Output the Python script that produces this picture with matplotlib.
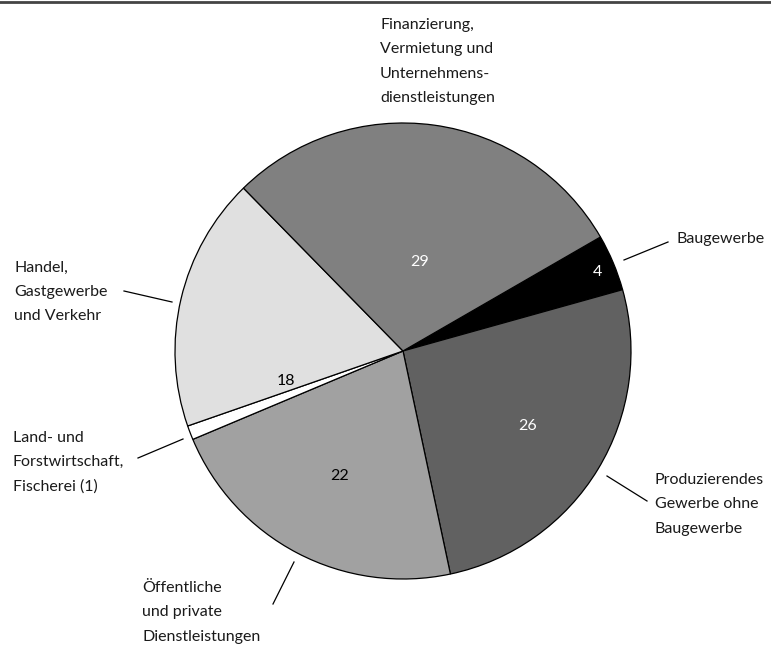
import matplotlib
matplotlib.use("Agg")
import matplotlib.pyplot as plt

plt.rcParams['font.family'] = ['Lato', 'DejaVu Sans']

# Anteile der Wirtschaftsbereiche (in %), im Uhrzeigersinn ab Baugewerbe
sectors = [
    "Baugewerbe",
    "Produzierendes\nGewerbe ohne\nBaugewerbe",
    "Öffentliche\nund private\nDienstleistungen",
    "Land- und\nForstwirtschaft,\nFischerei (1)",
    "Handel,\nGastgewerbe\nund Verkehr",
    "Finanzierung,\nVermietung und\nUnternehmens-\ndienstleistungen",
]
shares = [4, 26, 22, 1, 18, 29]
value_labels = ["4", "26", "22", "", "18", "29"]
fill_colors = ["#000000", "#616161", "#a1a1a1", "#ffffff", "#e0e0e0", "#808080"]
value_colors = ["white", "white", "black", "black", "black", "white"]

W, H = 771, 646
fig = plt.figure(figsize=(W / 100, H / 100), dpi=100)
ax = fig.add_axes([0, 0, 1, 1])


def py(y):
    # pixel row (from top) -> axis y
    return H - y


cx, cy, r = 403, py(351), 228
ax.pie(shares, colors=fill_colors, startangle=30, counterclock=False,
       center=(cx, cy), radius=r, frame=True,
       wedgeprops=dict(edgecolor='black', linewidth=0.9))
ax.set_xlim(0, W)
ax.set_ylim(0, H)
ax.set_aspect('equal')
ax.axis('off')

FS = 11.5

# Werte in den Segmenten
value_pos = [(597, 272), (528, 426), (340, 476), None, (286, 381), (420, 262)]
for txt, pos, col in zip(value_labels, value_pos, value_colors):
    if pos is None or not txt:
        continue
    ax.text(pos[0], py(pos[1]), txt, color=col, fontsize=FS,
            ha='center', va='center')

# Beschriftungen außen (linke Kante, Mitte der ersten Zeile) mit Hinweislinien
label_pos = [(677, 239), (655, 479), (142, 587), (13, 437), (14, 267), (380, 24)]
leaders = [((624, 260), (668, 242)), ((607, 476), (647, 501)),
           ((294, 562), (273, 604)), ((183, 439), (138, 458)),
           ((172, 302), (124, 291)), None]
LINE = 24.5
for name, (lx, ly), ld in zip(sectors, label_pos, leaders):
    for i, line in enumerate(name.split("\n")):
        ax.text(lx, py(ly + 4.5 + i * LINE), line, fontsize=FS,
                ha='left', va='baseline', color='#1a1a1a')
    if ld is not None:
        (x0, y0), (x1, y1) = ld
        ax.plot([x0, x1], [py(y0), py(y1)], color='black', linewidth=0.9)

# Linie am oberen Rand
ax.plot([0, W], [py(2), py(2)], color='#444444', linewidth=2)

fig.savefig("out.png", dpi=100)
